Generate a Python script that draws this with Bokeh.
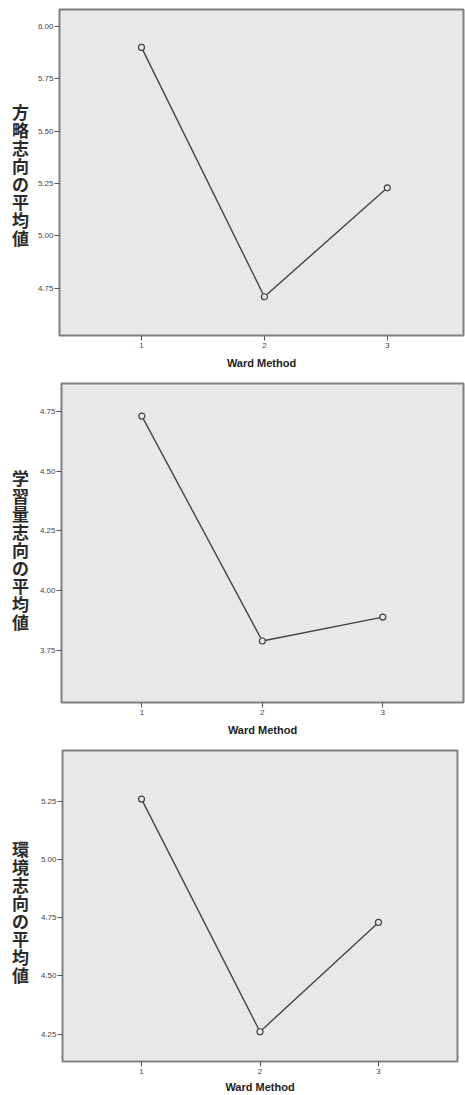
from bokeh.plotting import figure
from bokeh.layouts import column, row
from bokeh.models import Range1d, FixedTicker, PrintfTickFormatter
from bokeh.core.properties import value
from bokeh.embed import file_html
from bokeh.resources import INLINE

# ---- data ----
groups = [1, 2, 3]
x_title = "Ward Method"
y_titles = ["方略志向の平均値", "学習量志向の平均値", "環境志向の平均値"]
means_1 = [5.90, 4.71, 5.23]
means_2 = [4.73, 3.79, 3.89]
means_3 = [5.26, 4.26, 4.73]
yticks_1 = [4.75, 5.00, 5.25, 5.50, 5.75, 6.00]
yticks_2 = [3.75, 4.00, 4.25, 4.50, 4.75]
yticks_3 = [4.25, 4.50, 4.75, 5.00, 5.25]

BG = "#e7e8ea"
LINE = "#444444"
TW = 34  # width of the stacked-title strip


def make_panel(means, yticks, ytitle, yrange, xrange, fw, fh, bl, bt, bb, br,
               title_cy, label_standoff=6):
    H = bt + fh + bb
    # stacked (vertical) y title strip
    t = figure(width=TW, height=H, x_range=Range1d(0, TW), y_range=Range1d(H, 0),
               output_backend="svg", toolbar_location=None, tools="",
               x_axis_location=None, y_axis_location=None,
               min_border=0)
    t.outline_line_color = None
    t.grid.visible = False
    t.background_fill_color = "white"
    t.text(x=[20], y=[title_cy], text=["\n".join(ytitle)],
           text_font=value("Noto Sans CJK JP"), text_font_size="17px",
           text_font_style="bold",
           text_color="#2a2a2a", text_align="center", text_baseline="middle",
           text_line_height=0.72)

    p = figure(width=bl + fw + br, height=H,
               frame_width=fw, frame_height=fh,
               x_range=Range1d(*xrange), y_range=Range1d(*yrange),
               output_backend="svg", toolbar_location=None, tools="")
    p.min_border_left = bl
    p.min_border_right = br
    p.min_border_top = bt
    p.min_border_bottom = bb
    p.background_fill_color = BG
    p.border_fill_color = "white"
    p.outline_line_color = "#808080"
    p.outline_line_width = 2
    p.grid.visible = False

    p.xaxis.ticker = FixedTicker(ticks=groups)
    p.yaxis.ticker = FixedTicker(ticks=yticks)
    p.yaxis.formatter = PrintfTickFormatter(format="%.2f")
    for ax in (p.xaxis, p.yaxis):
        ax.axis_line_color = None
        ax.major_tick_line_color = "#555555"
        ax.major_tick_line_width = 1
        ax.major_tick_out = 5
        ax.major_tick_in = 0
        ax.minor_tick_line_color = None
        ax.major_label_text_font = "Liberation Sans"
        ax.major_label_text_font_size = "8px"
        ax.major_label_text_color = "#444444"
    p.yaxis.major_label_standoff = 1
    p.xaxis.major_label_standoff = 2
    p.xaxis.axis_label = x_title
    p.xaxis.axis_label_text_font = "Liberation Sans"
    p.xaxis.axis_label_text_font_style = "bold"
    p.xaxis.axis_label_text_font_size = "11px"
    p.xaxis.axis_label_text_color = "#222222"
    p.xaxis.axis_label_standoff = label_standoff

    p.line(groups, means, line_color=LINE, line_width=1.4)
    p.scatter(groups, means, marker="circle", size=6, line_color=LINE,
              line_width=1.2, fill_color=BG)
    return row(t, p, spacing=0)


r1 = make_panel(means_1, yticks_1, y_titles[0], (4.525, 6.081), (0.333, 3.62),
                404, 326, 59 - TW, 9, 40, 2, 190)
r2 = make_panel(means_2, yticks_2, y_titles[1], (3.533, 4.866), (0.333, 3.67),
                402, 319, 61 - TW, 8, 40, 2, 191)
r3 = make_panel(means_3, yticks_3, y_titles[2], (4.132, 5.469), (0.333, 3.667),
                395, 311, 62 - TW, 8, 34, 8, 183, label_standoff=4)

layout = column(r1, r2, r3, spacing=0)
open("out.html", "w").write(file_html(layout, INLINE))
